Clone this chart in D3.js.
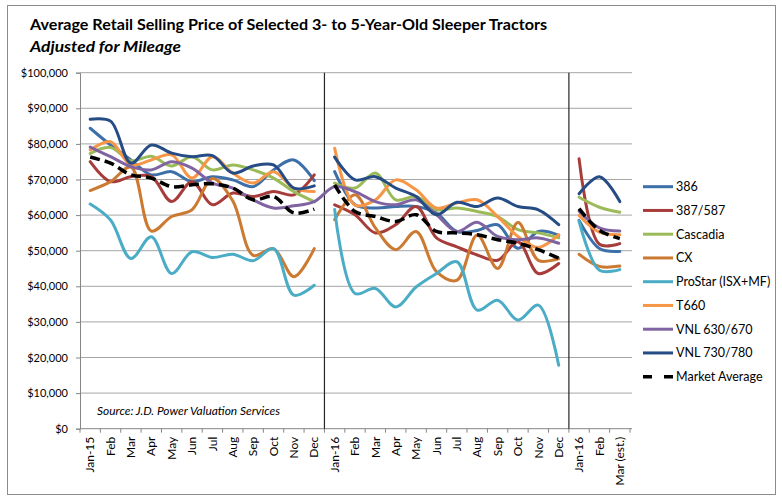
<!DOCTYPE html>
<html>
<head>
<meta charset="utf-8">
<script src="https://cdn.jsdelivr.net/npm/d3@7/dist/d3.min.js"></script>
<style>
  body { margin: 0; background: #fff; }
  svg text { font-family: Lato, "Open Sans", sans-serif; fill: #000; }
</style>
</head>
<body>
<div id="chart"></div>
<script>
const kWidth = 782;
const kHeight = 498;

// months on the category axis (three panels: 12 + 12 + 3)
const months = ["Jan-15", "Feb", "Mar", "Apr", "May", "Jun", "Jul", "Aug", "Sep", "Oct", "Nov", "Dec",
  "Jan-16", "Feb", "Mar", "Apr", "May", "Jun", "Jul", "Aug", "Sep", "Oct", "Nov", "Dec",
  "Jan-16", "Feb", "Mar (est.)"];
const panelBreaks = [[0, 12], [12, 24], [24, 27]];
const yTicks = [0, 10000, 20000, 30000, 40000, 50000, 60000, 70000, 80000, 90000, 100000];

const s386 = [84400, 79700, 75500, 71300, 72200, 69400, 70800, 69900, 68000, 72700, 75500, 69700,
  72200, 62900, 62000, 62400, 62400, 60600, 55400, 55700, 57300, 50700, 55400, 54300,
  58500, 50600, 49800];
const s387 = [75000, 69400, 70800, 70800, 63800, 69400, 62900, 66200, 65200, 66600, 65700, 71300,
  62900, 60100, 55000, 57300, 62400, 53600, 51100, 48800, 47300, 52500, 43600, 46400,
  75800, 51800, 52000];
const cascadia = [77300, 79000, 75200, 76500, 73800, 76400, 72700, 74100, 72700, 70400, 66600, 63800,
  69000, 67600, 71800, 64300, 65200, 61500, 62000, 61000, 59600, 55900, 55000, 53600,
  65000, 62200, 60800];
const cx = [66900, 69400, 73500, 55500, 59600, 61500, 70300, 64000, 48700, 50600, 42700, 50600,
  58700, 65700, 56400, 50300, 55400, 44100, 41700, 54400, 45000, 57900, 47300, 47800,
  49000, 45600, 45700];
const proStar = [63100, 58600, 47800, 53900, 43600, 49700, 48100, 49000, 47200, 50600, 37500, 40300,
  61600, 38000, 39400, 34200, 39800, 43600, 46900, 33300, 36100, 30500, 34700, 17800,
  58300, 44500, 44700];
const t660 = [78300, 80600, 74100, 75500, 76900, 70400, 76400, 71800, 69000, 72200, 67600, 66600,
  78800, 62800, 64300, 69900, 67100, 62000, 63400, 64300, 59600, 54000, 50900, 54500,
  59900, 55200, 54500];
const vnl630 = [79100, 76400, 73600, 72700, 75000, 73200, 69000, 67600, 64300, 62000, 62600, 63800,
  68000, 66600, 63800, 62900, 64300, 60100, 55400, 58000, 54000, 53100, 53600, 52100,
  61100, 56400, 55500];
const vnl730 = [86900, 86400, 74600, 79700, 77400, 76400, 76700, 71800, 73800, 74100, 67600, 68200,
  76300, 69900, 70800, 67600, 65200, 60100, 63600, 62400, 64800, 62400, 61500, 57300,
  66000, 70800, 63800];
const marketAvg = [76300, 74600, 71300, 70400, 68000, 68500, 68800, 67600, 64300, 65200, 60600, 61700,
  68500, 61000, 59600, 58200, 60100, 55400, 55000, 54500, 53100, 52100, 50300, 47900,
  61800, 55700, 53400];

const seriesNames = ["386", "387/587", "Cascadia", "CX", "ProStar (ISX+MF)", "T660",
  "VNL 630/670", "VNL 730/780", "Market Average"];
const seriesValues = [s386, s387, cascadia, cx, proStar, t660, vnl630, vnl730, marketAvg];
const seriesColors = ["#3d6fa8", "#a73d3b", "#9bbb59", "#cc7a32", "#4bacc6", "#f79646",
  "#8064a2", "#254c84", "#000000"];

const plot = { left: 80, right: 630, top: 72.7, bottom: 428.7 };

function createSvg()
{
  return d3.select("#chart")
    .append("svg")
    .attr("width", kWidth)
    .attr("height", kHeight);
}

function drawChart(svg)
{
  const xScale = d3.scaleBand()
    .domain(d3.range(months.length))
    .range([plot.left, plot.right]);

  const yScale = d3.scaleLinear()
    .domain([0, 100000])
    .range([plot.bottom, plot.top]);

  const cxOf = i => xScale(i) + xScale.bandwidth() / 2;

  // outer frame
  svg.append("rect")
    .attr("x", 7.5).attr("y", 5.5)
    .attr("width", 768).attr("height", 489)
    .attr("fill", "none")
    .attr("stroke", "#8c8c8c");

  // titles
  svg.append("text")
    .attr("x", 30).attr("y", 30)
    .attr("font-size", 15.5).attr("font-weight", "bold")
    .attr("textLength", 517).attr("lengthAdjust", "spacingAndGlyphs")
    .text("Average Retail Selling Price of Selected 3- to 5-Year-Old  Sleeper Tractors");
  svg.append("text")
    .attr("x", 30).attr("y", 52)
    .attr("font-size", 15.5).attr("font-weight", "bold").attr("font-style", "italic")
    .attr("textLength", 151).attr("lengthAdjust", "spacingAndGlyphs")
    .text("Adjusted for Mileage");

  // gridlines
  svg.append("g")
    .selectAll("line")
    .data(yTicks.filter(d => d > 0))
    .join("line")
    .attr("x1", plot.left).attr("x2", plot.right + 2)
    .attr("y1", d => yScale(d)).attr("y2", d => yScale(d))
    .attr("stroke", "#a6a6a6").attr("stroke-width", 1);

  // y axis
  const yAxis = d3.axisLeft(yScale)
    .tickValues(yTicks)
    .tickSize(4)
    .tickPadding(8)
    .tickFormat(d => "$" + d3.format(",")(d));
  const yG = svg.append("g")
    .attr("transform", `translate(${plot.left}, 0)`)
    .call(yAxis);
  yG.select(".domain").attr("stroke", "#868686");
  yG.selectAll(".tick line").attr("stroke", "#868686");
  yG.selectAll(".tick text").attr("font-size", 11).style("font-family", "Lato, sans-serif");

  // x axis: labels at band centres, tick marks at band edges
  const xAxis = d3.axisBottom(xScale)
    .tickSize(0)
    .tickFormat(i => months[i]);
  const xG = svg.append("g")
    .attr("transform", `translate(0, ${plot.bottom})`)
    .call(xAxis);
  xG.select(".domain").remove();
  xG.selectAll(".tick text")
    .attr("font-size", 12)
    .style("font-family", "Lato, sans-serif")
    .attr("text-anchor", "end")
    .attr("transform", "rotate(-90)")
    .attr("x", -8)
    .attr("y", 0)
    .attr("dy", "0.35em");

  svg.append("line")
    .attr("x1", plot.left).attr("x2", plot.right + 2)
    .attr("y1", plot.bottom).attr("y2", plot.bottom)
    .attr("stroke", "#868686");
  svg.append("g")
    .selectAll("line")
    .data(d3.range(months.length + 1))
    .join("line")
    .attr("x1", i => plot.left + i * xScale.bandwidth())
    .attr("x2", i => plot.left + i * xScale.bandwidth())
    .attr("y1", plot.bottom).attr("y2", plot.bottom + 4)
    .attr("stroke", "#868686");

  // panel dividers
  svg.append("g")
    .selectAll("line")
    .data(panelBreaks.slice(1).map(p => p[0]))
    .join("line")
    .attr("x1", i => xScale(i)).attr("x2", i => xScale(i))
    .attr("y1", plot.top).attr("y2", plot.bottom)
    .attr("stroke", "#262626").attr("stroke-width", 1.2);

  // source note
  svg.append("text")
    .attr("x", 97).attr("y", 415)
    .attr("font-size", 10.5).attr("font-style", "italic")
    .attr("textLength", 183).attr("lengthAdjust", "spacingAndGlyphs")
    .text("Source: J.D. Power Valuation Services");

  // lines
  const line = d3.line()
    .x(d => cxOf(d.i))
    .y(d => yScale(d.v))
    .curve(d3.curveCatmullRom.alpha(0.5));

  seriesNames.forEach((name, k) => {
    const vals = seriesValues[k];
    let segs = panelBreaks.map(([a, b]) => d3.range(a, b).map(i => ({ i, v: vals[i] })));
    if (name === "VNL 630/670") {
      // this series runs on across the first divider
      segs = [segs[0].concat(segs[1]), segs[2]];
    }
    const isAvg = name === "Market Average";
    svg.append("g")
      .selectAll("path")
      .data(segs)
      .join("path")
      .attr("d", line)
      .attr("fill", "none")
      .attr("stroke", seriesColors[k])
      .attr("stroke-width", isAvg ? 3.5 : 3)
      .attr("stroke-dasharray", isAvg ? "10,5" : null)
      .attr("stroke-linejoin", "round")
      .attr("stroke-linecap", isAvg ? "butt" : "round");
  });

  // legend
  const legend = svg.append("g")
    .selectAll("g")
    .data(seriesNames)
    .join("g")
    .attr("transform", (d, k) => `translate(643, ${186.7 + k * 23.75})`);
  legend.append("line")
    .attr("x1", 0).attr("x2", 30)
    .attr("stroke", (d, k) => seriesColors[k])
    .attr("stroke-width", (d, k) => d === "Market Average" ? 3.5 : 3)
    .attr("stroke-dasharray", d => d === "Market Average" ? "9,12" : null);
  legend.append("text")
    .attr("x", 33)
    .attr("dy", "0.35em")
    .attr("font-size", 12.5)
    .text(d => d);
}

document.addEventListener("DOMContentLoaded", () => {
  const svg = createSvg();
  drawChart(svg);
});
</script>
</body>
</html>
